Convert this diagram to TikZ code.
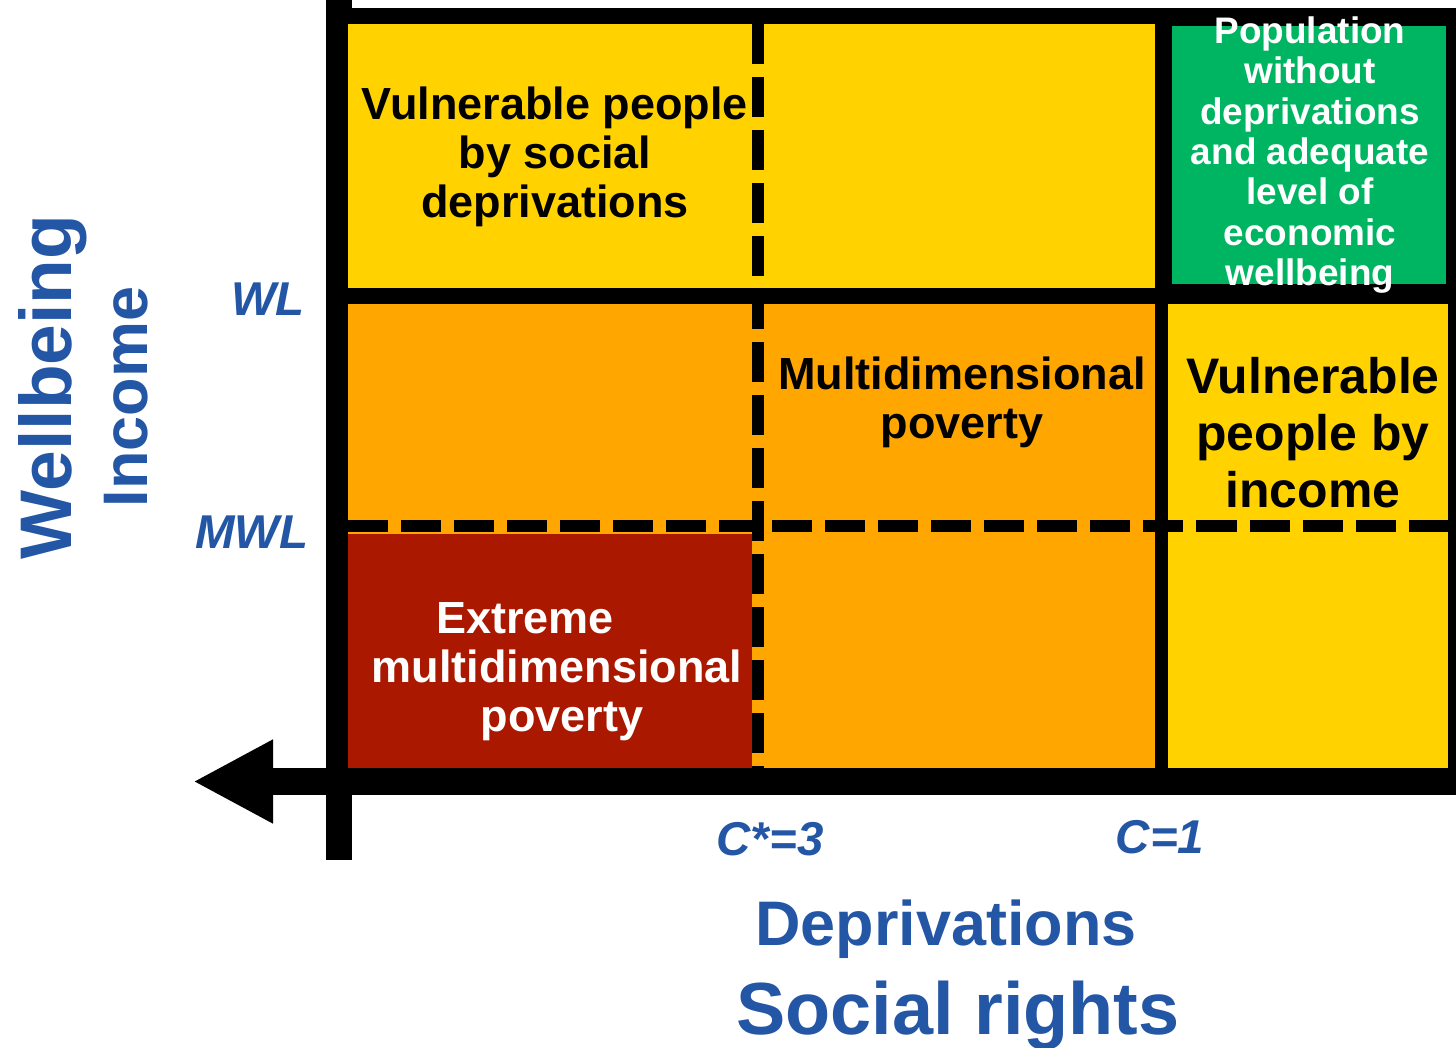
\documentclass[tikz,border=0pt]{standalone}
\usepackage{fontspec}
\setmainfont{Liberation Sans}
\usepackage{xcolor}
\usepackage{tikz}
\usetikzlibrary{arrows.meta}

\definecolor{axisblue}{RGB}{36,86,166}
\definecolor{cellyellow}{RGB}{255,210,0}
\definecolor{cellorange}{RGB}{255,166,0}
\definecolor{cellred}{RGB}{170,24,0}
\definecolor{cellgreen}{RGB}{0,181,98}

\begin{document}
\begin{tikzpicture}[x=0.01cm, y=-0.01cm,
    celltext/.style={align=center, inner sep=0pt, font=\bfseries\fontsize{12.8}{13.9}\selectfont},
    small/.style={align=center, inner sep=0pt, font=\bfseries\fontsize{10.5}{11.5}\selectfont},
    big/.style={align=center, inner sep=0pt, font=\bfseries\fontsize{14.2}{16.2}\selectfont},
    level/.style={anchor=base, inner sep=0pt, text=axisblue, font=\bfseries\itshape\fontsize{13.5}{15}\selectfont},
    axistitle/.style={anchor=base, inner sep=0pt, text=axisblue},
    split/.style={line width=0.12cm, dash pattern=on 0.4cm off 0.13cm},
    axisline/.style={line width=0.27cm, -{Triangle[length=0.8cm, width=0.78cm]}}
]
\useasboundingbox (0,0) rectangle (1456,1048);

% Frame and axes
\fill[black] (339,8) rectangle (1456,781);
\draw[line width=0.26cm] (339,0) -- (339,860);
\draw[axisline] (1456,781.5) -- (193,781.5);

% Cells
\fill[cellyellow] (348,24) rectangle (1155,288);
\fill[cellgreen] (1172,26) rectangle (1446,284);
\fill[cellorange] (348,304) rectangle (1155,768);
\fill[cellred] (348,534) rectangle (752,768);
\fill[cellyellow] (1168,304) rectangle (1448,768);

% Thresholds
\draw[split] (758,24) -- (758,768);
\draw[split] (348,526) -- (1456,526);

% Cell labels
\node[celltext] (social) at (555,157) {Vulnerable people\\by social\\deprivations};
\node[small, text=white] (nodep) at (1310,155) {Population\\without\\deprivations\\and adequate\\level of\\economic\\wellbeing};
\node[celltext] (multi) at (962,402) {Multidimensional\\poverty};
\node[big] (byincome) at (1313,433) {Vulnerable\\people by\\income};
\node[celltext, text=white] (extreme) at (557,672) {Extreme\hspace*{0.64cm}\\multidimensional\\\hspace*{0.1cm}poverty};

% Line labels
\node[level] (wl) at (268,315) {WL};
\node[level] (mwl) at (252,548) {MWL};
\node[level] (cstar) at (770,855) {C*=3};
\node[level] (cone) at (1160,853) {C=1};

% Axis titles
\node[axistitle, rotate=90, font=\bfseries\fontsize{20.8}{22}\selectfont] (wellbeing) at (71,387) {Wellbeing};
\node[axistitle, rotate=90, font=\bfseries\fontsize{17.9}{19}\selectfont] (income) at (147,397) {Income};
\node[axistitle, font=\bfseries\fontsize{17.9}{19}\selectfont] (depriv) at (946,945) {Deprivations};
\node[axistitle, font=\bfseries\fontsize{21}{23}\selectfont] (rights) at (958,1034) {Social rights};

\end{tikzpicture}
\end{document}
